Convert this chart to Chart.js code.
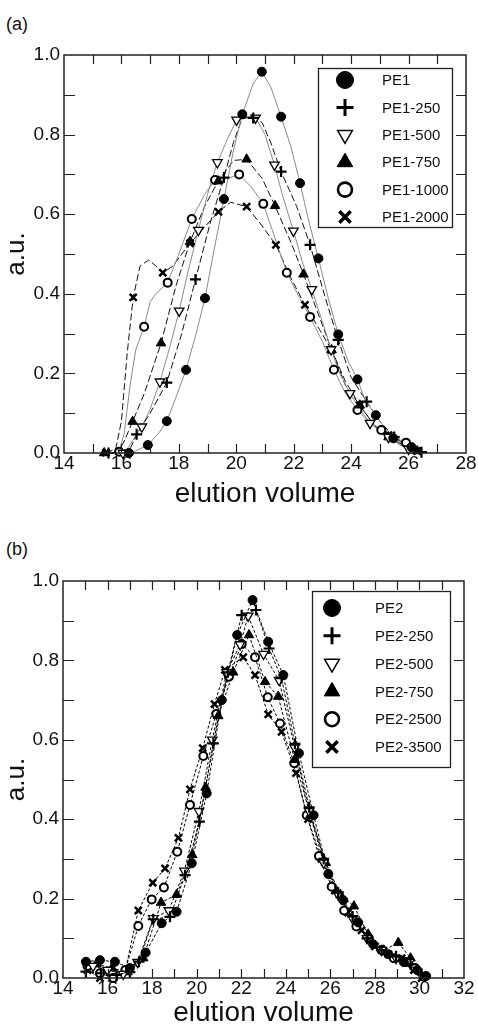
<!DOCTYPE html>
<html><head><meta charset="utf-8">
<script src="https://cdn.jsdelivr.net/npm/chart.js@4"></script>
<style>
html,body{margin:0;padding:0;background:#fff;}
body{width:478px;height:1033px;position:relative;overflow:hidden;font-family:"Liberation Sans",Arial,sans-serif;}
.lab{position:absolute;left:6px;font-size:18px;line-height:22px;color:#111;}
#wa{position:absolute;left:0;top:0;width:478px;height:508px;}
#wb{position:absolute;left:0;top:515px;width:478px;height:512px;}
</style></head><body>
<div class="lab" style="top:13px">(a)</div>
<div class="lab" style="top:538px">(b)</div>
<div id="wa"><canvas id="ca"></canvas></div>
<div id="wb"><canvas id="cb"></canvas></div>
<script>
// ---------- Panel (a) data ----------
const labelsA = ["PE1","PE1-250","PE1-500","PE1-750","PE1-1000","PE1-2000"];
// traced curves (x = elution volume, y = a.u.)
const curvePE1 = [[16.2,0],[16.5,0.005],[16.92,0.02],[17.3,0.05],[17.58,0.08],[17.9,0.14],[18.25,0.209],[18.6,0.30],[18.91,0.389],[19.2,0.50],[19.57,0.638],[19.9,0.76],[20.21,0.851],[20.6,0.93],[20.89,0.958],[21.2,0.92],[21.56,0.845],[21.9,0.77],[22.22,0.678],[22.5,0.59],[22.86,0.489],[23.2,0.39],[23.55,0.298],[23.9,0.23],[24.22,0.185],[24.5,0.13],[24.86,0.095],[25.2,0.06],[25.47,0.037],[25.9,0.02],[26.4,0.003]];
const curvePE1_250 = [[16.0,0],[16.3,0.01],[16.53,0.047],[17.0,0.10],[17.58,0.177],[18.1,0.30],[18.58,0.436],[19.1,0.58],[19.57,0.692],[19.9,0.78],[20.2,0.84],[20.59,0.845],[20.9,0.83],[21.2,0.78],[21.56,0.707],[22.1,0.62],[22.57,0.523],[23.1,0.39],[23.55,0.284],[24.0,0.19],[24.54,0.129],[25.0,0.08],[25.5,0.04],[26.0,0.015],[26.4,0.003]];
const curvePE1_500 = [[15.9,0],[16.2,0.01],[16.71,0.066],[17.0,0.11],[17.34,0.179],[17.7,0.27],[18.01,0.357],[18.3,0.45],[18.68,0.56],[19.0,0.65],[19.34,0.73],[19.7,0.79],[20.01,0.837],[20.4,0.845],[20.7,0.84],[21.0,0.80],[21.33,0.724],[21.6,0.65],[21.99,0.558],[22.3,0.48],[22.63,0.411],[23.0,0.33],[23.3,0.26],[23.6,0.20],[23.96,0.15],[24.3,0.11],[24.66,0.075],[25.0,0.055],[25.3,0.04],[25.7,0.02],[26.0,0.01],[26.4,0.002]];
const curvePE1_750 = [[15.4,0],[15.9,0.005],[16.1,0.03],[16.39,0.079],[16.8,0.15],[17.38,0.276],[17.9,0.42],[18.39,0.531],[18.9,0.62],[19.37,0.683],[19.9,0.735],[20.36,0.738],[20.9,0.69],[21.35,0.621],[21.9,0.53],[22.34,0.449],[22.8,0.36],[23.32,0.259],[23.8,0.18],[24.3,0.12],[24.8,0.07],[25.3,0.04],[25.8,0.02],[26.3,0.005]];
const curvePE1_1000 = [[15.7,0],[15.92,0.003],[16.1,0.05],[16.3,0.17],[16.5,0.26],[16.79,0.317],[17.0,0.38],[17.2,0.40],[17.61,0.428],[18.0,0.50],[18.45,0.588],[18.9,0.65],[19.26,0.686],[19.7,0.69],[20.1,0.70],[20.5,0.67],[20.94,0.626],[21.3,0.55],[21.76,0.453],[22.2,0.39],[22.57,0.342],[23.0,0.28],[23.4,0.209],[23.8,0.15],[24.22,0.108],[24.6,0.08],[25.0,0.06],[25.5,0.04],[25.91,0.026],[26.3,0.005]];
const curvePE1_2000 = [[15.46,0.001],[15.8,0.01],[16.0,0.08],[16.2,0.25],[16.41,0.391],[16.65,0.47],[16.95,0.485],[17.2,0.47],[17.44,0.453],[17.8,0.47],[18.1,0.50],[18.39,0.527],[18.8,0.56],[19.38,0.606],[19.8,0.63],[20.36,0.619],[20.8,0.58],[21.38,0.523],[21.9,0.44],[22.39,0.372],[22.9,0.31],[23.32,0.259],[23.8,0.17],[24.3,0.12],[24.8,0.07],[25.3,0.04],[25.8,0.02],[26.3,0.005]];
// marker positions
const markPE1 = [[16.26,0.0],[16.92,0.02],[17.58,0.08],[18.25,0.209],[18.91,0.389],[19.57,0.638],[20.21,0.851],[20.89,0.958],[21.56,0.845],[22.22,0.678],[22.86,0.489],[23.55,0.298],[24.22,0.185],[24.86,0.095],[25.47,0.037],[26.1,0.015]];
const markPE1_250 = [[15.55,0.0],[16.53,0.047],[17.58,0.177],[18.58,0.436],[19.57,0.692],[20.59,0.842],[21.56,0.707],[22.57,0.523],[23.55,0.284],[24.54,0.129],[25.5,0.04],[26.45,0.002]];
const markPE1_500 = [[16.05,0.0],[16.71,0.066],[17.34,0.179],[18.01,0.357],[18.68,0.56],[19.34,0.73],[20.01,0.837],[20.67,0.842],[21.33,0.724],[21.99,0.558],[22.63,0.411],[23.3,0.26],[23.96,0.15],[24.66,0.075],[25.3,0.04],[26.0,0.01]];
const markPE1_750 = [[15.4,0.0],[16.39,0.079],[17.38,0.276],[18.39,0.531],[19.37,0.683],[20.36,0.738],[21.35,0.621],[22.34,0.449],[23.32,0.259],[24.3,0.12],[25.3,0.04],[26.3,0.005]];
const markPE1_1000 = [[15.92,0.003],[16.79,0.317],[17.61,0.428],[18.45,0.588],[19.26,0.686],[20.1,0.70],[20.94,0.626],[21.76,0.453],[22.57,0.342],[23.4,0.209],[24.22,0.108],[25.05,0.058],[25.91,0.026]];
const markPE1_2000 = [[15.46,0.001],[16.41,0.391],[17.44,0.453],[18.39,0.527],[19.38,0.606],[20.36,0.619],[21.38,0.523],[22.39,0.372],[23.32,0.259],[24.3,0.12],[25.3,0.045],[26.3,0.005]];

// ---------- Panel (b) data ----------
const labelsB = ["PE2","PE2-250","PE2-500","PE2-750","PE2-2500","PE2-3500"];
const PE2 = [[15.03,0.041],[15.66,0.045],[16.33,0.041],[17.0,0.025],[17.71,0.064],[18.43,0.138],[19.1,0.167],[19.78,0.289],[20.45,0.465],[21.13,0.70],[21.82,0.864],[22.51,0.952],[23.21,0.847],[23.89,0.763],[24.59,0.566],[25.25,0.41],[25.91,0.262],[26.58,0.196],[27.25,0.14],[27.92,0.085],[28.6,0.06],[29.3,0.04],[29.9,0.02],[30.3,0.005]];
const PE2_250 = [[15.03,0.016],[15.7,0.012],[16.4,0.008],[17.0,0.015],[17.41,0.041],[18.05,0.148],[18.8,0.154],[19.48,0.259],[20.12,0.394],[20.75,0.591],[21.4,0.77],[22.02,0.914],[22.66,0.927],[23.25,0.83],[23.81,0.755],[24.41,0.59],[25.05,0.43],[25.7,0.30],[26.35,0.215],[27.0,0.155],[27.65,0.10],[28.3,0.07],[28.95,0.055],[29.6,0.035],[30.1,0.01]];
const PE2_500 = [[15.35,0.03],[16.0,0.02],[16.7,0.01],[17.35,0.04],[18.05,0.15],[18.75,0.17],[19.45,0.27],[20.1,0.42],[20.7,0.60],[21.35,0.77],[21.95,0.84],[22.31,0.912],[23.0,0.816],[23.7,0.75],[24.4,0.58],[25.05,0.42],[25.7,0.29],[26.35,0.21],[27.0,0.15],[27.65,0.10],[28.3,0.07],[28.95,0.05],[29.55,0.04]];
const PE2_750 = [[15.5,0.035],[16.2,0.025],[16.9,0.015],[17.6,0.05],[18.4,0.19],[19.1,0.21],[19.8,0.31],[20.4,0.48],[20.97,0.66],[21.64,0.77],[22.35,0.864],[23.07,0.746],[23.66,0.709],[24.4,0.55],[25.1,0.41],[25.8,0.29],[26.45,0.21],[27.06,0.181],[27.7,0.11],[28.4,0.07],[29.05,0.089],[29.6,0.05]];
const PE2_2500 = [[15.1,0.03],[15.66,0.012],[16.26,0.0],[16.8,0.02],[17.38,0.131],[17.98,0.198],[18.53,0.228],[19.13,0.318],[19.7,0.436],[20.3,0.559],[20.88,0.665],[21.45,0.759],[22.02,0.841],[22.62,0.808],[23.19,0.707],[23.74,0.641],[24.38,0.541],[24.94,0.41],[25.49,0.307],[26.06,0.23],[26.62,0.17],[27.17,0.13],[27.73,0.10],[28.3,0.07],[28.85,0.05],[29.4,0.04],[29.8,0.025],[30.2,0.003]];
const PE2_3500 = [[15.1,0.02],[15.66,0.0],[16.2,0.0],[16.8,0.02],[17.38,0.17],[18.03,0.24],[18.58,0.276],[19.18,0.353],[19.7,0.475],[20.27,0.579],[20.8,0.69],[21.27,0.776],[22.09,0.808],[22.62,0.763],[23.21,0.664],[23.81,0.62],[24.46,0.516],[25.0,0.40],[25.6,0.30],[26.2,0.22],[26.8,0.165],[27.4,0.12],[28.0,0.08],[28.6,0.06],[29.2,0.05],[29.75,0.02],[30.1,0.0]];

// ---------- tick labels ----------
const xTicksA = [14,16,18,20,22,24,26,28];
const xTicksB = [14,16,18,20,22,24,26,28,30,32];
const yTicks = [0.0,0.2,0.4,0.6,0.8,1.0];

// ---------- styling ----------
const FONT = '"Liberation Sans", Arial, Helvetica, sans-serif';
const markerStyles = [
  {pointStyle:'circle', rotation:0, fill:'#000', bw:1, r:4.5, lr:8.5, lbw:1},
  {pointStyle:'cross', rotation:0, fill:'#000', bw:2.2, r:5.5, lr:8.5, lbw:3},
  {pointStyle:'triangle', rotation:180, fill:'#fff', bw:1.3, r:5.5, lr:8.5, lbw:1.5},
  {pointStyle:'triangle', rotation:0, fill:'#000', bw:1, r:5.5, lr:9, lbw:1},
  {pointStyle:'circle', rotation:0, fill:'#fff', bw:2, r:4, lr:7, lbw:2.6},
  {pointStyle:'crossRot', rotation:0, fill:'#000', bw:2.5, r:5, lr:8, lbw:3.5}
];
const toXY = a => a.map(p => ({x:p[0], y:p[1]}));

const framePlugin = {
  id:'frame',
  afterDatasetsDraw(chart){
    const {ctx, chartArea:a, scales:{x,y}} = chart;
    ctx.save();
    ctx.strokeStyle = '#222';
    ctx.lineWidth = 1.5;
    ctx.strokeRect(a.left, a.top, a.right-a.left, a.bottom-a.top);
    ctx.lineWidth = 1.2;
    ctx.beginPath();
    for (let v = x.min + 1; v < x.max - 0.5; v += 1) {
      const px = Math.round(x.getPixelForValue(v)) + 0.5;
      ctx.moveTo(px, a.bottom); ctx.lineTo(px, a.bottom - 9);
      ctx.moveTo(px, a.top); ctx.lineTo(px, a.top + 9);
    }
    for (let i = 1; i < 10; i++) {
      const py = Math.round(y.getPixelForValue(i/10)) + 0.5;
      ctx.moveTo(a.left, py); ctx.lineTo(a.left + 11, py);
      ctx.moveTo(a.right, py); ctx.lineTo(a.right - 10, py);
    }
    ctx.stroke();
    ctx.restore();
  }
};

const boxLegendPlugin = {
  id:'boxLegend',
  afterDraw(chart, args, o){
    if (!o || !o.items) return;
    const ctx = chart.ctx;
    ctx.save();
    ctx.fillStyle = '#fff';
    ctx.fillRect(o.x, o.y, o.w, o.h);
    ctx.strokeStyle = '#222';
    ctx.lineWidth = 1.3;
    ctx.strokeRect(o.x + 0.5, o.y + 0.5, o.w, o.h);
    o.items.forEach((it, i) => {
      const s = markerStyles[i];
      const cy = o.y0 + i * o.rowH;
      ctx.fillStyle = s.fill;
      ctx.strokeStyle = '#000';
      ctx.lineWidth = s.lbw;
      Chart.helpers.drawPoint(ctx, {pointStyle:s.pointStyle, rotation:s.rotation, radius:s.lr, borderWidth:s.lbw}, o.mx, cy);
      ctx.fillStyle = '#111';
      ctx.font = '15px ' + FONT;
      ctx.textBaseline = 'middle';
      ctx.textAlign = 'left';
      ctx.fillText(it, o.tx, cy + 1);
    });
    ctx.restore();
  }
};

function markerDataset(label, pts, i, withLine){
  const s = markerStyles[i];
  return {
    label, data: toXY(pts),
    showLine: withLine,
    borderColor: '#000',
    borderWidth: withLine ? 1 : s.bw,
    borderDash: withLine ? [3,2] : [],
    backgroundColor: s.fill,
    pointStyle: s.pointStyle,
    rotation: s.rotation,
    pointRadius: s.r,
    pointBorderWidth: s.bw,
    pointBorderColor: '#000',
    pointBackgroundColor: s.fill,
    clip: false,
    tension: 0
  };
}
function lineDataset(label, pts, i){
  const solid = (i % 2 === 0);
  return {
    label: label + ' curve', data: toXY(pts),
    showLine: true,
    borderColor: solid ? '#8a8a8a' : '#111',
    borderWidth: 1,
    borderDash: solid ? [] : [7,3],
    pointRadius: 0,
    tension: 0
  };
}

function makeOptions(xmin, xmax, xTicks, pad, xh, legend){
  return {
    animation:false,
    responsive:true,
    maintainAspectRatio:false,
    devicePixelRatio:1,
    layout:{padding:pad},
    plugins:{legend:{display:false}, tooltip:{enabled:false}, boxLegend:legend},
    scales:{
      x:{
        type:'linear', min:xmin, max:xmax,
        afterBuildTicks: sc => { sc.ticks = xTicks.map(v => ({value:v})); },
        afterFit: sc => { sc.height = xh; },
        grid:{display:false, drawTicks:false},
        border:{display:false},
        ticks:{padding:1, autoSkip:false, maxRotation:0, color:'#111', font:{family:FONT, size:19, lineHeight:1}, callback:v => String(v)},
        title:{display:true, text:'elution volume', color:'#111', padding:{top:0,bottom:0}, font:{family:FONT, size:28, lineHeight:1}}
      },
      y:{
        type:'linear', min:0, max:1,
        afterBuildTicks: sc => { sc.ticks = yTicks.map(v => ({value:v})); },
        afterFit: sc => { sc.width = pad.yw; },
        grid:{display:false, drawTicks:false},
        border:{display:false},
        ticks:{padding:4, color:'#111', font:{family:FONT, size:19, lineHeight:1}, callback:v => Number(v).toFixed(1)},
        title:{display:true, text:'a.u.', color:'#111', padding:{top:4,bottom:0}, font:{family:FONT, size:26, lineHeight:1}}
      }
    }
  };
}

// ---------- Chart (a) ----------
const curvesA = [curvePE1, curvePE1_250, curvePE1_500, curvePE1_750, curvePE1_1000, curvePE1_2000];
const marksA = [markPE1, markPE1_250, markPE1_500, markPE1_750, markPE1_1000, markPE1_2000];
const dsA = [];
marksA.forEach((m, i) => dsA.push(markerDataset(labelsA[i], m, i, false)));
curvesA.forEach((c, i) => dsA.push(lineDataset(labelsA[i], c, i)));
const padA = {left:0, right:12, top:55, bottom:0, yw:64};
new Chart(document.getElementById('ca'), {
  type:'scatter',
  data:{datasets:dsA},
  options: makeOptions(14, 28, xTicksA, padA, 55,
    {x:318, y:68, w:134, h:159, y0:80, rowH:27.4, mx:345, tx:382, items:labelsA}),
  plugins:[framePlugin, boxLegendPlugin]
});

// ---------- Chart (b) ----------
const seriesB = [PE2, PE2_250, PE2_500, PE2_750, PE2_2500, PE2_3500];
const dsB = seriesB.map((s, i) => markerDataset(labelsB[i], s, i, true));
const padB = {left:0, right:14, top:66, bottom:0, yw:63};
new Chart(document.getElementById('cb'), {
  type:'scatter',
  data:{datasets:dsB},
  options: makeOptions(14, 32, xTicksB, padB, 49,
    {x:312, y:76, w:138, h:176, y0:93, rowH:27.8, mx:332, tx:375, items:labelsB}),
  plugins:[framePlugin, boxLegendPlugin]
});
</script>
</body></html>
